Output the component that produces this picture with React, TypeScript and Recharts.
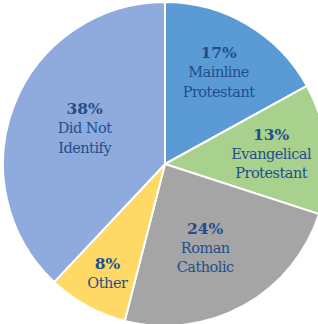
import React from "react";
import { PieChart, Pie, Cell } from "recharts";

const categories = ["Mainline Protestant", "Evangelical Protestant", "Roman Catholic", "Other", "Did Not Identify"];
const labelLines = [["Mainline", "Protestant"], ["Evangelical", "Protestant"], ["Roman", "Catholic"], ["Other"], ["Did Not", "Identify"]];
const percents = [17, 13, 24, 8, 38];
const colors = ["#5B9BD5", "#A9D18E", "#A5A5A5", "#FFD966", "#8FAADC"];

const data = categories.map((name, i) => ({ name, value: percents[i], lines: labelLines[i] }));

const RAD = Math.PI / 180;
const labelRadiusFrac = [0.67, 0.66, 0.56, 0.75, 0.55];
const labelAngleShift = [1, 1.5, -2.5, 0.5, -4];

const renderLabel = (props: any) => {
  const { cx, cy, midAngle, outerRadius, index } = props;
  const r = outerRadius * labelRadiusFrac[index];
  const a = (midAngle + labelAngleShift[index]) * RAD;
  const x = cx + r * Math.cos(a);
  const y = cy - r * Math.sin(a) + 2.5;
  const lines = [`${percents[index]}%`, ...labelLines[index]];
  const lh = 19.5;
  const top = y - ((lines.length - 1) * lh) / 2;
  return (
    <g key={`lbl-${index}`}>
      {lines.map((l, i) => (
        <text
          key={i}
          x={x}
          y={top + i * lh}
          textAnchor="middle"
          dominantBaseline="central"
          fill="#1F4E8C"
          fontFamily="DejaVu Serif"
          fontSize={i === 0 ? 15.5 : 14.5}
          fontWeight={i === 0 ? 700 : 400}
          letterSpacing={i === 0 ? 0 : -0.5}
          style={{ fontFamily: "DejaVu Serif" }}
        >
          {l}
        </text>
      ))}
    </g>
  );
};

export default function App() {
  return (
    <div style={{ position: "fixed", left: 0, top: 0, width: 318, height: 324, background: "#fff" }}>
      <PieChart width={318} height={324} margin={{ top: 0, right: 0, bottom: 0, left: 0 }}>
        <Pie
          data={data}
          dataKey="value"
          cx={165}
          cy={164}
          outerRadius={162}
          startAngle={90}
          endAngle={-270}
          stroke="#ffffff"
          strokeWidth={2}
          label={renderLabel}
          labelLine={false}
          isAnimationActive={false}
        >
          {data.map((d, i) => (
            <Cell key={d.name} fill={colors[i]} />
          ))}
        </Pie>
      </PieChart>
    </div>
  );
}
